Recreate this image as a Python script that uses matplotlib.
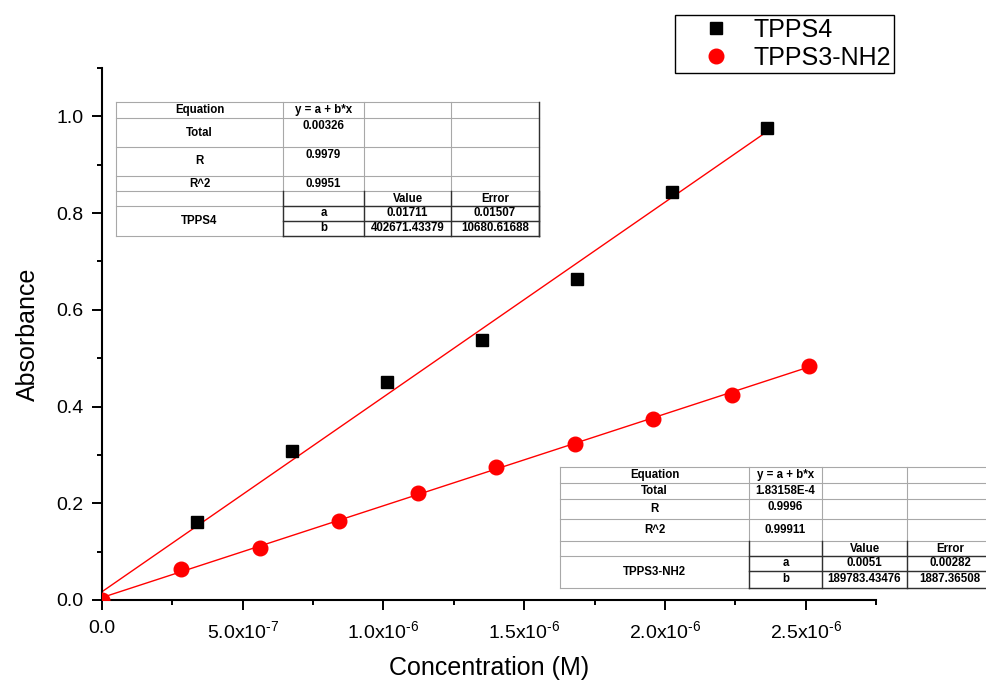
import matplotlib
matplotlib.use("Agg")
import matplotlib.pyplot as plt
from matplotlib.lines import Line2D
from matplotlib.patches import Rectangle
from matplotlib.ticker import MultipleLocator, FixedLocator, FixedFormatter
import numpy as np

plt.rcParams['font.family'] = ['Liberation Sans', 'DejaVu Sans']
plt.rcParams['mathtext.fontset'] = 'custom'
plt.rcParams['mathtext.rm'] = 'Liberation Sans'
plt.rcParams['mathtext.it'] = 'Liberation Sans:italic'
plt.rcParams['mathtext.bf'] = 'Liberation Sans:bold'

# ---- measured data ----
conc_tpps4 = [0.3375e-6, 0.675e-6, 1.0125e-6, 1.35e-6, 1.6875e-6, 2.025e-6, 2.3625e-6]
abs_tpps4 = [0.161, 0.308, 0.450, 0.537, 0.663, 0.844, 0.975]

conc_nh2 = [0.0, 0.280e-6, 0.560e-6, 0.841e-6, 1.122e-6, 1.401e-6,
            1.679e-6, 1.958e-6, 2.237e-6, 2.512e-6]
abs_nh2 = [0.0, 0.065, 0.107, 0.164, 0.222, 0.274, 0.322, 0.375, 0.424, 0.483]

# ---- linear fit results (y = a + b*x) ----
tpps4_fit = ['0.00326', '0.9979', '0.9951', '0.01711', '0.01507', '402671.43379', '10680.61688']
nh2_fit = ['1.83158E-4', '0.9996', '0.99911', '0.0051', '0.00282', '189783.43476', '1887.36508']

# ---- axis ticks ----
x_ticks = [0.0, 0.5e-6, 1.0e-6, 1.5e-6, 2.0e-6, 2.5e-6]
x_tick_labels = ['0.0', r'5.0x10$^{\text{-}7}$', r'1.0x10$^{\text{-}6}$', r'1.5x10$^{\text{-}6}$',
                 r'2.0x10$^{\text{-}6}$', r'2.5x10$^{\text{-}6}$']
y_ticks = [0.0, 0.2, 0.4, 0.6, 0.8, 1.0]

W, H = 986, 684
fig = plt.figure(figsize=(W / 100, H / 100), dpi=100)
ax = fig.add_axes([102 / W, 1 - 600 / H, (876 - 102) / W, (600 - 68) / H])

# fitted lines, drawn from the tabulated intercept and slope
for conc, fit in ((conc_tpps4, tpps4_fit), (conc_nh2, nh2_fit)):
    a, b = float(fit[3]), float(fit[5])
    xs = np.array([0.0, max(conc)])
    ax.plot(xs, a + b * xs, color='#ff0000', lw=1.0, zorder=2)

ax.plot(conc_tpps4, abs_tpps4, ls='none', marker='s', ms=8.6, color='black',
        mec='black', label='TPPS4', zorder=3)
ax.plot(conc_nh2, abs_nh2, ls='none', marker='o', ms=10.5, color='#ff0000',
        mec='#ff0000', label='TPPS3-NH2', zorder=4)

ax.set_xlim(0, 2.75e-6)
ax.set_ylim(0, 1.1)
for s in ('top', 'right'):
    ax.spines[s].set_visible(False)
for s in ('left', 'bottom'):
    ax.spines[s].set_linewidth(1.5)

ax.xaxis.set_major_locator(FixedLocator(x_ticks))
ax.xaxis.set_major_formatter(FixedFormatter(x_tick_labels))
ax.xaxis.set_minor_locator(MultipleLocator(0.25e-6))
ax.yaxis.set_major_locator(FixedLocator(y_ticks))
ax.yaxis.set_major_formatter(plt.FuncFormatter(lambda v, p: f'{v:.1f}'))
ax.yaxis.set_minor_locator(MultipleLocator(0.1))
ax.tick_params(which='major', direction='out', length=7.2, width=1.4, labelsize=14)
ax.tick_params(axis='y', which='major', pad=6)
ax.tick_params(axis='x', which='major', pad=7)
ax.tick_params(which='minor', direction='out', length=3.6, width=1.4)

ax.set_xlabel('Concentration (M)', fontsize=18, labelpad=10)
ax.set_ylabel('Absorbance', fontsize=18, labelpad=12)

leg = ax.legend(loc='upper left', bbox_to_anchor=(675 / W, 1 - 15 / H),
                bbox_transform=fig.transFigure, borderaxespad=0, fontsize=18,
                frameon=True, fancybox=False, edgecolor='black', framealpha=1,
                handlelength=3.0, handletextpad=0.0, borderpad=0.12,
                labelspacing=0.15, numpoints=1)
leg.get_frame().set_linewidth(1.0)


def fp(x, y):
    return (x / W, 1 - y / H)


def hline(x0, x1, y, dark):
    fig.add_artist(Line2D([x0 / W, x1 / W], [1 - y / H, 1 - y / H],
                          transform=fig.transFigure,
                          color='#303030' if dark else '#a8a8a8',
                          lw=1.0 if dark else 0.8, zorder=6))


def vline(x, y0, y1, dark):
    fig.add_artist(Line2D([x / W, x / W], [1 - y0 / H, 1 - y1 / H],
                          transform=fig.transFigure,
                          color='#303030' if dark else '#a8a8a8',
                          lw=1.0 if dark else 0.8, zorder=6))


def draw_fit_table(cols, rows, name, fit):
    total, r, r2, a, a_err, b, b_err = fit
    fig.add_artist(Rectangle(fp(cols[0], rows[-1]), (cols[-1] - cols[0]) / W,
                             (rows[-1] - rows[0]) / H, transform=fig.transFigure,
                             facecolor='white', edgecolor='none', zorder=5))
    # grid
    for i, y in enumerate(rows):
        if i == 6:
            hline(cols[1], cols[-1], y, False)
        else:
            hline(cols[0], cols[-1], y, False)
    for x in cols:
        vline(x, rows[0], rows[-1], False)
    # darker block around parameter values
    for i in (5, 6, 7):
        hline(cols[1], cols[-1], rows[i], True)
    for x in cols[1:]:
        vline(x, rows[4], rows[-1], True)
    vline(cols[-1], rows[0], rows[-1], True)

    def cell(r0, r1, c, text, top=False):
        xc = (cols[c] + cols[c + 1]) / 2
        yc = rows[r0] + 8 if top else (rows[r0] + rows[r1 + 1]) / 2
        fig.text(xc / W, 1 - yc / H, text, ha='center', va='center',
                 fontsize=8.3, fontweight='bold', zorder=7)

    cell(0, 0, 0, 'Equation')
    cell(0, 0, 1, 'y = a + b*x')
    cell(1, 1, 0, 'Total')
    cell(1, 1, 1, total, top=(rows[2] - rows[1] > 20))
    cell(2, 2, 0, 'R')
    cell(2, 2, 1, r, top=True)
    cell(3, 3, 0, 'R^2')
    cell(3, 3, 1, r2)
    cell(4, 4, 2, 'Value')
    cell(4, 4, 3, 'Error')
    cell(5, 5, 1, 'a')
    cell(5, 5, 2, a)
    cell(5, 5, 3, a_err)
    cell(6, 6, 1, 'b')
    cell(6, 6, 2, b)
    cell(6, 6, 3, b_err)
    cell(5, 6, 0, name)


draw_fit_table([116, 283, 364, 451, 539],
               [102, 118, 147, 176, 191, 206, 221, 236], 'TPPS4', tpps4_fit)
draw_fit_table([560, 749, 822, 907, 993],
               [467, 483, 499, 519, 541, 556, 571, 588], 'TPPS3-NH2', nh2_fit)

fig.savefig('out.png', dpi=100)
